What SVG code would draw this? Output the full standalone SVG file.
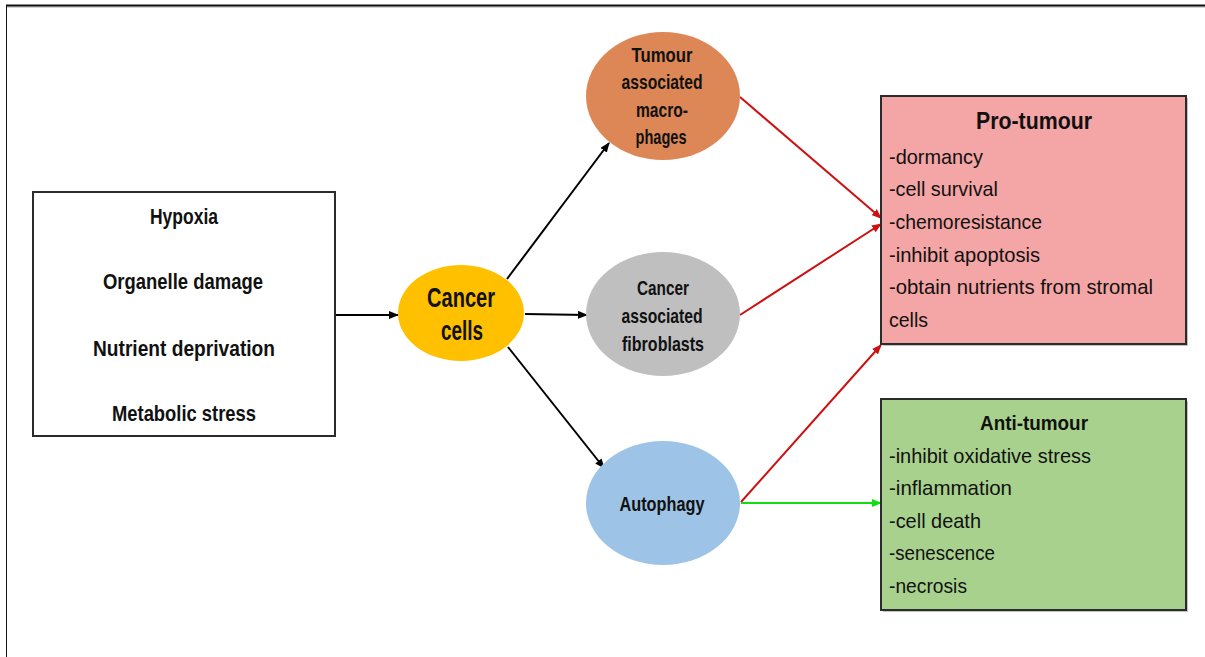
<svg xmlns="http://www.w3.org/2000/svg" width="1205" height="657" viewBox="0 0 1205 657">
  <style>
    .t { font-family: "Liberation Sans", Arial, sans-serif; fill: #111; }
    .b { font-weight: bold; }
    .c { text-anchor: middle; }
    .box { stroke: #2b2b2b; stroke-width: 2; }
    .shadow { fill: #9a9a9a; opacity: 0.6; }
    .blk { stroke: #000; stroke-width: 2; fill: none; marker-end: url(#ahBlack); }
    .red { stroke: #CC1111; stroke-width: 2; fill: none; marker-end: url(#ahRed); }
    .grn { stroke: #11DD11; stroke-width: 2; fill: none; marker-end: url(#ahGreen); }
  </style>
  <defs>
    <marker id="ahBlack" markerWidth="10" markerHeight="8" refX="9" refY="4" orient="auto" markerUnits="userSpaceOnUse">
      <path d="M0,0 L10,4 L0,8 Z" fill="#000"/>
    </marker>
    <marker id="ahRed" markerWidth="10" markerHeight="8" refX="9" refY="4" orient="auto" markerUnits="userSpaceOnUse">
      <path d="M0,0 L10,4 L0,8 Z" fill="#CC1111"/>
    </marker>
    <marker id="ahGreen" markerWidth="10" markerHeight="8" refX="9" refY="4" orient="auto" markerUnits="userSpaceOnUse">
      <path d="M0,0 L10,4 L0,8 Z" fill="#11DD11"/>
    </marker>
  </defs>

  <rect width="1205" height="657" fill="#fff"/>

  <!-- page frame -->
  <g id="frame">
    <line x1="6" y1="7" x2="1205" y2="7" stroke="#aaa" stroke-width="1"/>
    <line x1="6" y1="5.5" x2="1205" y2="5.5" stroke="#111" stroke-width="2"/>
    <line x1="6.5" y1="5" x2="6.5" y2="657" stroke="#111" stroke-width="1"/>
  </g>

  <!-- connectors -->
  <g id="connectors">
    <line class="blk" x1="336" y1="315" x2="398" y2="315"/>
    <line class="blk" x1="507" y1="279" x2="609" y2="143"/>
    <line class="blk" x1="525" y1="314" x2="587" y2="315"/>
    <line class="blk" x1="508" y1="347" x2="604" y2="468"/>
    <line class="red" x1="740" y1="97" x2="881" y2="218"/>
    <line class="red" x1="740" y1="315" x2="881" y2="224"/>
    <line class="red" x1="741" y1="502" x2="881" y2="345"/>
    <line class="grn" x1="741" y1="503" x2="881" y2="503"/>
  </g>

  <!-- stress conditions box -->
  <g id="stressors">
    <rect x="33" y="192" width="302" height="244" fill="#fff" class="box"/>
    <text class="t b c" x="184" y="224" font-size="21.5" textLength="68" lengthAdjust="spacingAndGlyphs">Hypoxia</text>
    <text class="t b c" x="183" y="289" font-size="21.5" textLength="160" lengthAdjust="spacingAndGlyphs">Organelle damage</text>
    <text class="t b c" x="184" y="356" font-size="21.5" textLength="182" lengthAdjust="spacingAndGlyphs">Nutrient deprivation</text>
    <text class="t b c" x="184" y="421" font-size="21.5" textLength="144" lengthAdjust="spacingAndGlyphs">Metabolic stress</text>
  </g>

  <!-- cancer cells -->
  <g id="cancer-cells">
    <ellipse cx="461" cy="313" rx="63" ry="48" fill="#FFC000"/>
    <text class="t b c" x="461" y="307" font-size="28" textLength="68" lengthAdjust="spacingAndGlyphs">Cancer</text>
    <text class="t b c" x="462" y="340" font-size="28" textLength="42" lengthAdjust="spacingAndGlyphs">cells</text>
  </g>

  <!-- tumour associated macrophages -->
  <g id="tam">
    <ellipse cx="663" cy="96" rx="77" ry="64" fill="#DE8756"/>
    <text class="t b c" x="662" y="62" font-size="20.5" textLength="61" lengthAdjust="spacingAndGlyphs">Tumour</text>
    <text class="t b c" x="662" y="89" font-size="20.5" textLength="81" lengthAdjust="spacingAndGlyphs">associated</text>
    <text class="t b c" x="662" y="117" font-size="20.5" textLength="52" lengthAdjust="spacingAndGlyphs">macro-</text>
    <text class="t b c" x="661" y="144" font-size="20.5" textLength="51" lengthAdjust="spacingAndGlyphs">phages</text>
  </g>

  <!-- cancer associated fibroblasts -->
  <g id="caf">
    <ellipse cx="663" cy="314" rx="77" ry="62" fill="#BFBFBF"/>
    <text class="t b c" x="663" y="295" font-size="20.5" textLength="52" lengthAdjust="spacingAndGlyphs">Cancer</text>
    <text class="t b c" x="662" y="323" font-size="20.5" textLength="81" lengthAdjust="spacingAndGlyphs">associated</text>
    <text class="t b c" x="663" y="351" font-size="20.5" textLength="82" lengthAdjust="spacingAndGlyphs">fibroblasts</text>
  </g>

  <!-- autophagy -->
  <g id="autophagy">
    <ellipse cx="663" cy="503" rx="77" ry="62" fill="#9DC3E6"/>
    <text class="t b c" x="662" y="511" font-size="20.5" textLength="85" lengthAdjust="spacingAndGlyphs">Autophagy</text>
  </g>

  <!-- pro-tumour outcomes -->
  <g id="pro-tumour">
    <rect x="883" y="98" width="305" height="248" class="shadow"/>
    <rect x="881" y="96" width="305" height="248" fill="#F4A5A5" class="box"/>
    <text class="t b c" x="1034" y="129" font-size="24" textLength="116" lengthAdjust="spacingAndGlyphs">Pro-tumour</text>
    <text class="t" x="889" y="164" font-size="21" textLength="94" lengthAdjust="spacingAndGlyphs">-dormancy</text>
    <text class="t" x="889" y="196" font-size="21" textLength="109" lengthAdjust="spacingAndGlyphs">-cell survival</text>
    <text class="t" x="889" y="229" font-size="21" textLength="153" lengthAdjust="spacingAndGlyphs">-chemoresistance</text>
    <text class="t" x="889" y="262" font-size="21" textLength="151" lengthAdjust="spacingAndGlyphs">-inhibit apoptosis</text>
    <text class="t" x="889" y="294" font-size="21" textLength="264" lengthAdjust="spacingAndGlyphs">-obtain nutrients from stromal</text>
    <text class="t" x="889" y="327" font-size="21" textLength="39" lengthAdjust="spacingAndGlyphs">cells</text>
  </g>

  <!-- anti-tumour outcomes -->
  <g id="anti-tumour">
    <rect x="883" y="401" width="305" height="211" class="shadow"/>
    <rect x="881" y="399" width="305" height="211" fill="#A9D18E" class="box"/>
    <text class="t b c" x="1034" y="430" font-size="21" textLength="108" lengthAdjust="spacingAndGlyphs">Anti-tumour</text>
    <text class="t" x="889" y="463" font-size="21" textLength="202" lengthAdjust="spacingAndGlyphs">-inhibit oxidative stress</text>
    <text class="t" x="889" y="495" font-size="21" textLength="123" lengthAdjust="spacingAndGlyphs">-inflammation</text>
    <text class="t" x="889" y="528" font-size="21" textLength="92" lengthAdjust="spacingAndGlyphs">-cell death</text>
    <text class="t" x="889" y="560" font-size="21" textLength="106" lengthAdjust="spacingAndGlyphs">-senescence</text>
    <text class="t" x="889" y="593" font-size="21" textLength="78" lengthAdjust="spacingAndGlyphs">-necrosis</text>
  </g>
</svg>
